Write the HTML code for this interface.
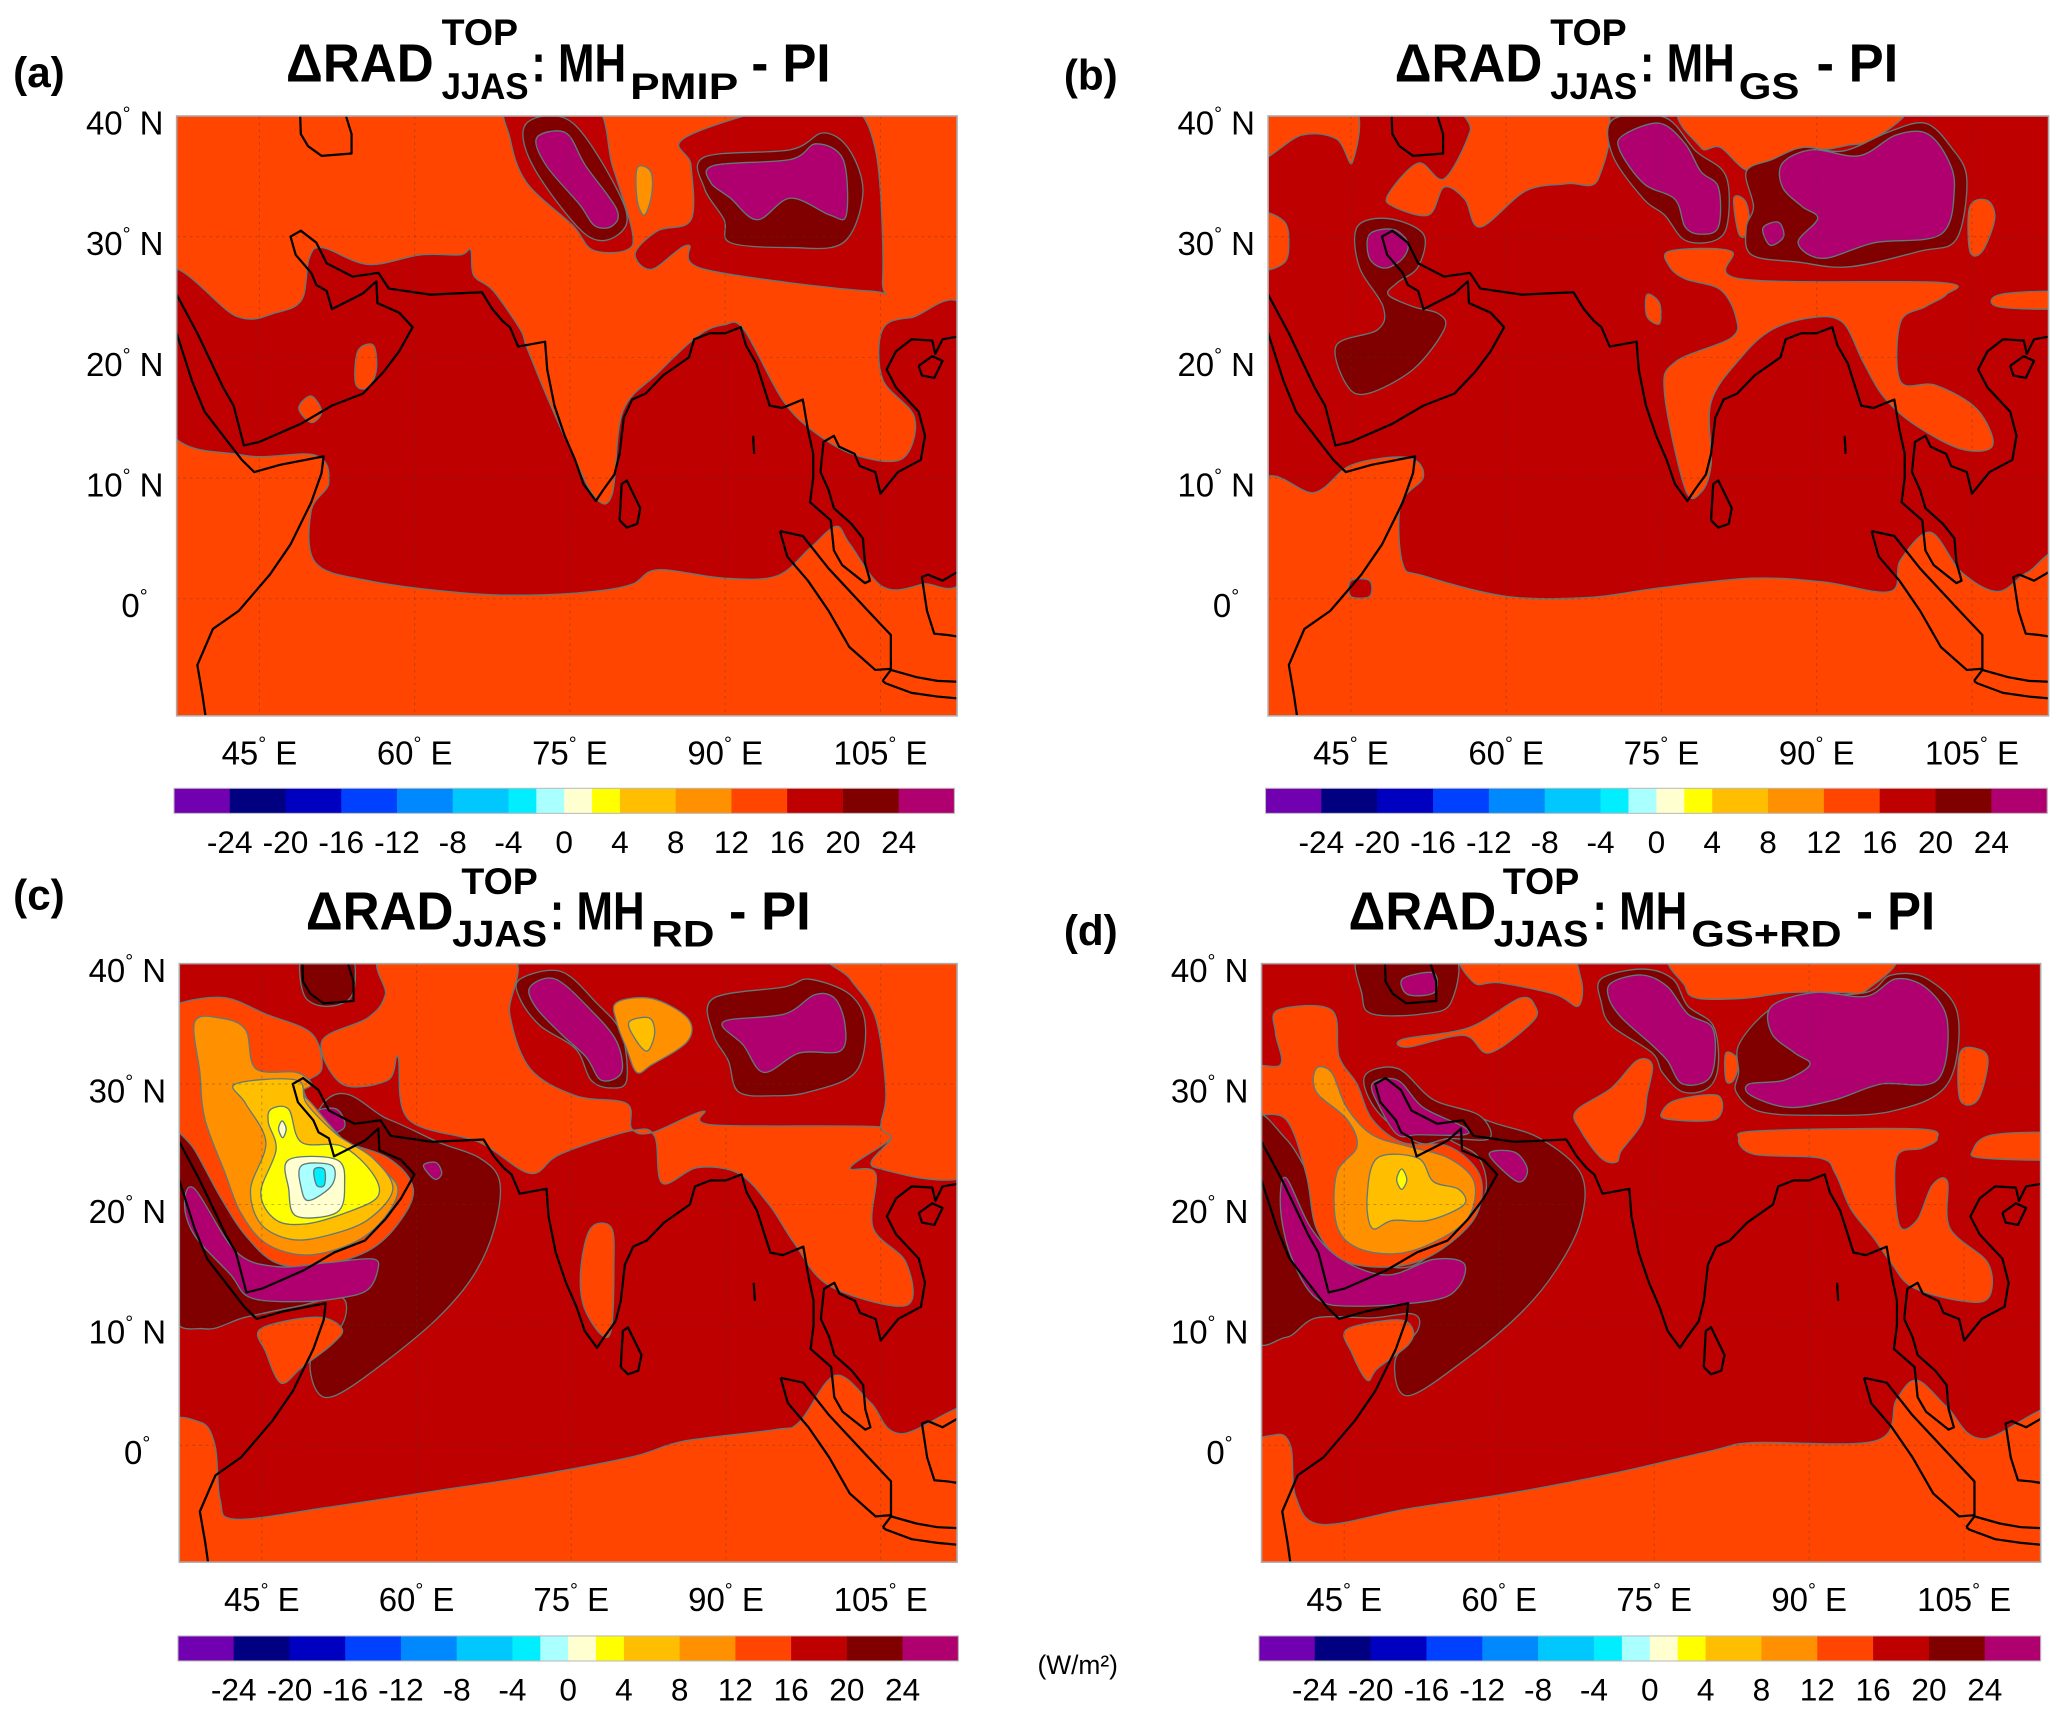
<!DOCTYPE html>
<html><head><meta charset="utf-8"><title>ΔRAD TOP JJAS maps</title>
<style>
html,body{margin:0;padding:0;background:#fff;}
svg{display:block;}
text{font-family:"Liberation Sans",sans-serif;fill:#000;}
.tt{font-weight:bold;}
</style></head>
<body>
<svg id="fig" width="2067" height="1719" viewBox="0 0 1568 1304" xmlns="http://www.w3.org/2000/svg">
<rect x="0" y="0" width="1568" height="1304" fill="#fff"/>
<g id="maps"></g>
<g id="labels"></g>
<text class="tt" x="10" y="66" font-size="32">(a)</text>
<text class="tt" x="807" y="68" font-size="32">(b)</text>
<text class="tt" x="10" y="690" font-size="32">(c)</text>
<text class="tt" x="807" y="717" font-size="32">(d)</text>
<g>
<text class="tt" x="217" y="62" font-size="41" textLength="112" lengthAdjust="spacingAndGlyphs">ΔRAD</text>
<text class="tt" x="335" y="34" font-size="28" textLength="58" lengthAdjust="spacingAndGlyphs">TOP</text>
<text class="tt" x="335" y="75" font-size="28" textLength="66" lengthAdjust="spacingAndGlyphs">JJAS</text>
<text class="tt" x="403" y="62" font-size="41" textLength="72" lengthAdjust="spacingAndGlyphs">: MH</text>
<text class="tt" x="478" y="75" font-size="28" textLength="82" lengthAdjust="spacingAndGlyphs">PMIP</text>
<text class="tt" x="570" y="62" font-size="41" textLength="60" lengthAdjust="spacingAndGlyphs">- PI</text>
</g>
<g>
<text class="tt" x="1058" y="62" font-size="41" textLength="112" lengthAdjust="spacingAndGlyphs">ΔRAD</text>
<text class="tt" x="1176" y="34" font-size="28" textLength="58" lengthAdjust="spacingAndGlyphs">TOP</text>
<text class="tt" x="1176" y="75" font-size="28" textLength="66" lengthAdjust="spacingAndGlyphs">JJAS</text>
<text class="tt" x="1244" y="62" font-size="41" textLength="72" lengthAdjust="spacingAndGlyphs">: MH</text>
<text class="tt" x="1319" y="75" font-size="28" textLength="46" lengthAdjust="spacingAndGlyphs">GS</text>
<text class="tt" x="1378" y="62" font-size="41" textLength="62" lengthAdjust="spacingAndGlyphs">- PI</text>
</g>
<g>
<text class="tt" x="232" y="705" font-size="41" textLength="112" lengthAdjust="spacingAndGlyphs">ΔRAD</text>
<text class="tt" x="350" y="678" font-size="28" textLength="58" lengthAdjust="spacingAndGlyphs">TOP</text>
<text class="tt" x="343" y="718" font-size="28" textLength="72" lengthAdjust="spacingAndGlyphs">JJAS</text>
<text class="tt" x="417" y="705" font-size="41" textLength="72" lengthAdjust="spacingAndGlyphs">: MH</text>
<text class="tt" x="494" y="718" font-size="28" textLength="48" lengthAdjust="spacingAndGlyphs">RD</text>
<text class="tt" x="553" y="705" font-size="41" textLength="62" lengthAdjust="spacingAndGlyphs">- PI</text>
</g>
<g>
<text class="tt" x="1023" y="705" font-size="41" textLength="112" lengthAdjust="spacingAndGlyphs">ΔRAD</text>
<text class="tt" x="1140" y="678" font-size="28" textLength="58" lengthAdjust="spacingAndGlyphs">TOP</text>
<text class="tt" x="1133" y="718" font-size="28" textLength="72" lengthAdjust="spacingAndGlyphs">JJAS</text>
<text class="tt" x="1208" y="705" font-size="41" textLength="72" lengthAdjust="spacingAndGlyphs">: MH</text>
<text class="tt" x="1283" y="718" font-size="28" textLength="114" lengthAdjust="spacingAndGlyphs">GS+RD</text>
<text class="tt" x="1408" y="705" font-size="41" textLength="60" lengthAdjust="spacingAndGlyphs">- PI</text>
</g>
<text x="787" y="1270" font-size="20">(W/m²)</text>
</svg>
<script>
const levels = [-28,-24,-20,-16,-12,-8,-4,-2,0,2,4,8,12,16,20,24,28];
const binColors = ['#7000B0','#000080','#0000C0','#0040FF','#0088FF','#00C8FF','#00EEFF','#AAFFFF','#FFFFD0','#FFFF00','#FFBF00','#FF9000','#FF4500','#BF0000','#800000','#B00070'];
const cbTicks = [-24,-20,-16,-12,-8,-4,0,4,8,12,16,20,24];
const lonTicks = [45,60,75,90,105];
const latTicks = [40,30,20,10,0];
const LON0 = 37, LON1 = 112.4, LAT0 = -9.7, LAT1 = 40;

const calC = {gx:172, lonG:45, sx:20.3, gy:330, latG:30, sy:31.0};
const calD = {gx:175, lonG:45, sx:20.3, gy:330, latG:30, sy:30.9};

const aRed = [[36,27.1],[42.8,23.4],[46.6,23.7],[49.1,24.8],[49.8,28.2],[51.1,29.1],[55.5,27.7],[60.6,28.5],[64.4,28.5],[65.4,28.9],[65.7,26.8],[67.6,25.5],[70.2,22.3],[70.8,20.9],[72.7,16.9],[75.3,11.9],[77.5,8.3],[79.1,8.7],[80.1,15.5],[83.5,18.7],[87.4,21.8],[89.9,22.7],[91.8,22.3],[95.6,16.4],[98.8,13.7],[102.6,11.9],[107.1,11.6],[108.3,15],[105.2,18.2],[105.2,22.3],[108,23.3],[113.5,23.2],[113.5,3.0],[109,1.2],[105.2,1.0],[102,4.6],[100.7,6],[98.2,4.2],[95,1.9],[89.9,1.7],[83.5,2.4],[81,1.2],[77.2,0.6],[70.8,0.3],[64.4,0.5],[55.5,1.5],[50.4,3],[50,7.3],[51.7,9.6],[50.4,11.9],[43.4,11.9],[36,14.4]];
const aOr1 = [[54.5,20.5],[56,21],[56.3,19],[55.5,17.5],[54.3,17.8]];
const aOr2 = [[48.8,15.8],[50,16.8],[51,15.5],[50,14.6]];
const aRedTW = [[69.2,41],[77.2,41],[79.1,35.9],[81,30.5],[80.5,28.9],[77.2,28.9],[75.3,30.9],[70.8,34.5],[69.2,38.2]];
const aDarkTW = [[70.8,39.4],[75.3,39.4],[80.2,32.7],[79.7,30.2],[76.5,30.2],[71.4,35.9]];
const aMagTW = [[71.8,38.2],[74.6,38.6],[76.5,35.9],[79.5,32.3],[79.1,30.9],[77.4,30.9],[75.9,32.7],[72.7,35.9]];
const aOrBlob = [[81.5,35.7],[82.8,35.4],[82.9,33.5],[82.2,31.8],[81.5,33]];
const aRedTE = [[86.1,38.2],[96.3,41],[102,41],[104.6,36.8],[105.2,26.4],[103.9,25.5],[88,27.3],[86.4,29.3],[82.9,27.3],[81.3,28.6],[83.5,30.5],[86.7,31.4],[86.7,35.9]];
const aDarkTE = [[88,36.6],[96.3,37.2],[99.5,38.6],[102,37.2],[103.3,33.6],[101.4,29.5],[96.3,29.1],[90.5,29.5],[89.9,31.4],[88,34]];
const aMagTE = [[88.9,35.9],[96.3,36.4],[98.8,37.7],[101.4,36.4],[101.7,31.8],[100.1,31.8],[96.3,33.2],[93.1,31.4],[90.5,33.2],[88.6,34.5]];

const bO1 = [[36,41],[45.1,41],[45.1,36.1],[43.6,38.1],[40.2,38.4],[36,36.4]];
const bO2 = [[36,31.8],[38.5,31.3],[39,29.5],[38.5,27.8],[36,27.5]];
const bO3 = [[56.5,41],[69.1,41],[68.9,34.8],[65.9,34.4],[61.9,33.8],[57.5,30.8],[56,33.1],[54,34.1],[52.5,31.8],[49.1,32.5],[48.6,33.5],[51.5,36.1],[54,34.8],[56.5,38.7]];
const bO4 = [[77.8,41],[97.6,41],[95.6,38.1],[93.1,37.6],[90.6,37.2],[87.7,37.1],[83.7,35.4],[80.7,37.4],[78.8,37.4]];
const bO5 = [[75.8,28.8],[81.7,28.8],[82.7,26.5],[102,26.2],[102.5,25.2],[100.5,24.2],[98.1,22.9],[98.1,18],[101.5,17.7],[105.5,15.7],[107,12.7],[104,12.4],[99.5,14.4],[96.5,16.7],[94.5,19.6],[92.5,22.9],[89.6,23.3],[85.7,22.3],[82.7,20],[79.8,16.3],[79.8,11.1],[78.8,8.8],[77.3,9.1],[75.3,17],[76.3,19.6],[81.7,21.6],[82.2,23.3],[80.7,25.6],[77.3,26.5],[75.8,27.5]];
const bO6 = [[104.8,32.5],[106.5,33],[107.2,31.5],[106,28.8],[104.8,28.8]];
const bO7 = [[107.7,25.2],[113.5,25.4],[113.5,24.1],[107.5,24.2]];
const bO8 = [[73.6,25.2],[74.8,24.5],[74.8,22.8],[73.6,23.4]];
const bO9 = [[36,8.8],[41.5,8.8],[45.1,11.1],[50.5,11.7],[52,10.1],[49.8,7.8],[50,2.9],[52,1.9],[60,0.2],[67.9,0.1],[74.8,0.9],[83.7,1.7],[90.6,1.4],[97.1,0.6],[98.1,3.2],[101,5.5],[104,2.2],[107.5,0.6],[110.4,2.2],[113.5,2.9],[113.5,-11],[36,-11]];
const bRedSq = [[45,1.5],[46.8,1.5],[46.8,0.2],[45,0.2]];
const bDarkAr = [[45.6,30.8],[48.6,31.5],[52,30.2],[51.5,27.5],[49.5,26.2],[48.6,25.2],[51,24.2],[53.5,23.6],[54,22.3],[51,19],[46.6,17],[44.6,17.7],[43.6,21],[47.6,22.3],[48.1,24.2],[45.8,27.5]];
const bMagAr = [[46.8,30.2],[49.1,30.6],[50.5,29.5],[50,28.2],[48.3,27.4],[46.8,28.2]];
const bDarkTW = [[70.3,39.7],[75.3,39.9],[78.3,37.1],[81.2,35.1],[81.4,31.2],[80.2,29.7],[77.3,29.7],[75.3,31.8],[73.3,33.1],[70.3,36.7]];
const bMagTW = [[71.3,38.4],[74.8,39.4],[77.3,37.7],[78.8,35.4],[80.5,34.1],[80.5,30.8],[78.8,30.2],[77.3,30.8],[76.3,33.1],[73.3,34.4],[71,37.1]];
const bOrSm = [[82,33.2],[83.2,32.8],[83.5,30.4],[82.5,30.2]];
const bDarkTE = [[83.2,35.4],[85.7,36.4],[88.7,37.4],[92.6,37.1],[97,38.7],[100.5,39.4],[103,37.4],[104.5,34.8],[103.5,29.8],[100,28.8],[93.1,27.5],[88.2,27.9],[83.7,28.5],[83.2,30.8],[83.9,32.5]];
const bMagTE = [[86.7,36.1],[89.6,37.2],[94.1,36.7],[97.6,38.4],[100.5,38.6],[102.5,36.7],[103.3,34.1],[102,30.2],[95.6,29.5],[90.6,28.2],[88.2,29.5],[90.1,31.5],[88.6,32.5],[86.7,34.1]];
const bMagSm = [[84.8,30.7],[86.3,31.2],[86.8,30],[85.5,29.3]];

const cOrN = [[415,0],[660,0],[660,150],[700,290],[790,360],[890,380],[900,445],[940,455],[1040,400],[1060,435],[1390,440],[1410,470],[1330,545],[1380,560],[1375,700],[1440,790],[1440,900],[1290,850],[1220,740],[1170,640],[1110,560],[1030,545],[960,585],[945,465],[900,450],[760,510],[700,560],[600,480],[460,420],[440,260],[420,320],[330,330],[290,220],[380,160],[415,100]];
const cOrNE = [[1300,0],[1600,0],[1600,530],[1380,545],[1410,470],[1390,440],[1400,350],[1380,160],[1330,60]];
const cOrInd = [[820,700],[860,700],[865,800],[860,960],[840,975],[805,900],[800,800]];
const cOrS = [[-20,1230],[50,1200],[80,1260],[90,1400],[120,1450],[300,1420],[500,1380],[700,1340],[900,1290],[1000,1250],[1180,1220],[1230,1200],[1300,1080],[1370,1150],[1430,1230],[1600,1170],[1600,1600],[-20,1600]];
const cDarkTop = [[255,-10],[345,-10],[350,100],[300,130],[255,100]];
const cDark = [[300,370],[420,420],[520,480],[600,520],[640,580],[630,700],[590,820],[520,930],[420,1040],[320,1130],[280,1120],[270,1030],[330,950],[330,880],[250,900],[140,930],[60,960],[-10,900],[-10,470],[60,460],[130,600],[170,720]];
const cOr = [[15,120],[100,108],[180,150],[270,200],[290,290],[255,330],[265,380],[300,460],[420,520],[470,600],[440,690],[380,760],[280,800],[200,790],[140,720],[90,620],[40,500],[-10,400],[-10,150]];
const cMag1 = [[40,600],[120,760],[200,800],[300,790],[390,780],[400,810],[380,860],[330,880],[250,890],[150,880],[110,820],[40,720],[20,640]];
const cMag2 = [[280,400],[320,395],[335,440],[300,460],[275,440]];
const cMag3 = [[490,540],[515,532],[526,560],[512,575]];
const cDOr = [[40,170],[90,160],[140,190],[160,290],[240,300],[270,330],[250,350],[270,380],[330,470],[400,540],[440,600],[410,680],[350,740],[260,770],[180,740],[130,660],[100,560],[60,420],[50,300]];
const cGold = [[120,330],[240,320],[260,380],[320,460],[390,520],[430,600],[380,680],[300,720],[230,730],[170,690],[150,600],[180,480],[140,380]];
const cYel = [[190,395],[225,395],[250,480],[330,490],[390,560],[400,620],[340,660],[260,690],[200,680],[170,610],[200,500],[185,430]];
const cCream = [[225,525],[320,525],[335,590],[320,660],[240,670],[225,600]];
const cPale = [[250,540],[310,540],[310,590],[265,630],[250,600]];
const cCyan = [[275,550],[295,550],[295,590],[280,590]];
const cDiam = [[212,425],[220,445],[213,468],[205,445]];
const cOrBL = [[170,960],[280,930],[330,960],[310,1000],[250,1060],[210,1100],[180,1020]];
const cDarkW = [[680,60],[760,40],[830,120],[880,200],[890,320],[860,340],[820,320],[790,240],[720,180],[680,110]];
const cMagW = [[700,80],[750,60],[820,140],[870,220],[880,300],[840,320],[810,260],[760,200],[710,130]];
const cOrC = [[870,120],[940,110],[1010,160],[1010,220],[940,280],[910,300],[890,240],[870,170]];
const cGoldC = [[895,170],[935,160],[945,200],[930,245],[905,210]];
const cDarkE = [[1060,110],[1200,80],[1250,60],[1330,100],[1360,180],[1340,300],[1250,350],[1180,360],[1110,350],[1090,270],[1060,200]];
const cMagE = [[1080,170],[1200,150],[1260,100],[1300,110],[1320,180],[1310,245],[1230,250],[1160,300],[1120,230]];

const dDark = [[-10,440],[60,470],[130,620],[200,760],[300,800],[380,720],[450,620],[440,520],[380,470],[330,400],[380,390],[470,430],[560,470],[640,560],[640,680],[590,810],[520,920],[420,1030],[300,1130],[275,1040],[320,960],[310,920],[230,930],[120,930],[60,980],[-10,950]];
const dDarkTop = [[210,-10],[385,-10],[385,120],[330,150],[230,150],[210,100]];
const dMagTop = [[290,60],[350,45],[352,95],[300,100]];
const dOr3a = [[410,-10],[600,-10],[640,60],[635,130],[590,100],[480,70],[430,70]];
const dOr3b = [[520,110],[550,130],[545,170],[460,250],[410,205],[300,235],[290,215],[420,185]];
const dOr4 = [[630,400],[700,340],[750,270],[780,280],[770,360],[760,430],[720,500],[710,530],[680,520],[640,450]];
const dOr5 = [[800,400],[830,370],[910,360],[905,420],[810,420]];
const dOr6 = [[840,-10],[1240,-10],[1200,90],[1150,95],[1050,95],[960,110],[870,110],[845,80]];
const dOr7 = [[925,250],[950,270],[940,320],[925,320]];
const dOr8 = [[1385,250],[1420,240],[1440,270],[1420,370],[1385,370]];
const dOr9 = [[950,470],[990,450],[1300,445],[1340,470],[1310,495],[1260,520],[1265,690],[1300,680],[1330,590],[1360,580],[1365,700],[1440,790],[1440,880],[1380,885],[1290,850],[1250,790],[1215,725],[1170,650],[1140,560],[1110,520],[980,510]];
const dOr10 = [[1410,500],[1450,460],[1600,460],[1600,520],[1430,520]];
const dOrS = [[-20,1290],[40,1230],[70,1260],[80,1390],[130,1460],[300,1420],[500,1380],[700,1330],[900,1270],[980,1250],[1220,1245],[1260,1140],[1300,1090],[1360,1160],[1430,1240],[1600,1170],[1600,1600],[-20,1600]];
const dOrBL = [[180,960],[280,935],[310,960],[300,1000],[240,1060],[220,1090],[190,1020]];
const dOr = [[45,140],[150,140],[165,260],[200,330],[230,420],[290,480],[380,490],[440,560],[440,650],[400,720],[330,780],[250,800],[170,780],[120,700],[100,560],[60,420],[-10,400],[-10,290],[50,280],[40,200]];
const dDarkRing = [[215,310],[280,290],[350,370],[440,410],[460,470],[380,470],[320,480],[240,400]];
const dMag1 = [[230,330],[280,320],[330,390],[410,440],[410,460],[320,460],[280,460],[245,390]];
const dMag2 = [[60,570],[110,700],[170,780],[260,820],[350,780],[410,790],[400,850],[350,885],[200,900],[120,880],[70,770],[50,650]];
const dMag3 = [[460,510],[510,505],[535,550],[515,580]];
const dDOr = [[120,290],[150,300],[180,390],[230,460],[300,490],[380,520],[430,580],[420,670],[360,730],[280,765],[200,750],[160,690],[160,560],[200,490],[180,420],[120,350]];
const dGold = [[240,520],[320,520],[350,580],[400,600],[410,640],[340,680],[270,680],[230,700],[220,620]];
const dYel = [[288,548],[298,575],[288,600],[278,575]];
const dDarkW = [[680,60],[760,35],[820,60],[850,130],[900,180],[910,280],[890,340],[840,350],[800,300],[780,250],[700,180],[680,120]];
const dMagW = [[700,70],[760,50],[810,80],[850,150],[900,190],[895,310],[840,330],[810,270],[780,230],[720,160],[695,110]];
const dDarkE = [[950,230],[1000,150],[1060,110],[1200,95],[1250,50],[1320,60],[1380,150],[1360,330],[1250,400],[1100,410],[990,400],[945,350],[950,300]];
const dMagE = [[1015,130],[1100,95],[1200,105],[1260,60],[1320,85],[1360,170],[1340,320],[1230,330],[1140,370],[1050,390],[975,360],[970,330],[1040,320],[1090,280],[1060,250],[1015,200]];

const coastAfrica = [[34,27.5],[37,22],[38.5,18],[39.7,15.5],[41.5,13.5],[43.3,11.5],[44.5,10.5],[47,11.1],[51.2,11.8],[51,10.4],[50,8],[48,4.5],[46,2],[43,-1],[40.5,-2.5],[39,-5.5],[39.5,-8],[40,-11]];
const coastAsia = [[34.5,28.5],[36.5,26],[39,22],[41.5,17.5],[42.5,16],[43.5,12.7],[45,13],[49,14.5],[52,16],[55,17],[57,18.8],[58.5,20.5],[59.8,22.5],[58.5,23.7],[56.4,24.5],[56.3,26.3],[55,25.3],[52,24],[51.5,25.5],[50.5,26],[50,27],[48.5,28.5],[48,30],[49,30.5],[50.5,29.5],[51.5,27.8],[54,26.7],[56.5,27],[57.5,25.7],[61.5,25.2],[66.5,25.4],[67.5,24],[68.5,23],[69.2,22.5],[70,20.9],[72.6,21.3],[72.8,19],[73.5,16],[74.5,13.5],[75.5,11.5],[76.3,9.5],[77.5,8.1],[78.2,9],[79.3,10.3],[79.8,12],[80.2,15],[81,16.5],[82.3,17],[84,18.5],[86.5,20],[87,21.5],[88.5,22],[90,22],[91.5,22.5],[92,21],[93,19.5],[94.3,16],[95.5,15.8],[97.5,16.5],[98,14],[98.5,12],[98.5,10],[98.2,8],[100.2,6.5],[100.5,4],[101.3,2.8],[103.5,1.3],[104,1.5],[103.5,3],[103.3,5],[102.2,6.2],[100.5,7.5],[100,9],[99.2,10.5],[99.5,13],[100.5,13.5],[101,12.6],[102.5,12],[103,11],[104.5,10.5],[105,8.7],[106.7,10.5],[108.9,11.5],[109.3,13.5],[108.7,15.5],[106.5,17.5],[105.6,19],[106.5,20.5],[108,21.5],[110,21.4],[110.3,20.3],[111,21.5],[113,21.8]];
const coastSriLanka = [[79.8,6.5],[80,9.5],[80.5,9.8],[81.8,7.5],[81.5,6.2],[80.5,5.9],[79.8,6.5]];
const coastSumatra = [[95.3,5.6],[97.5,5.2],[100,2.5],[103.8,-1],[106,-3],[106,-5.8],[104.5,-5.9],[102,-4],[100,-1],[98,1.5],[96,3.5],[95.3,5.6]];
const coastJava = [[105.2,-6.8],[106,-5.9],[108.5,-6.5],[110.5,-6.8],[113,-6.9]];
const coastJava2 = [[113,-8.3],[110.5,-8.1],[108,-7.8],[105.5,-7],[105.2,-6.8]];
const coastBorneo = [[113,-3.2],[111.5,-3],[110.2,-2.9],[109.5,-1],[109,1.8],[109.6,2],[111,1.5],[113,2.5]];
const coastCaspian = [[48.9,41],[49,38.5],[49.7,37.5],[51,36.7],[53.9,36.9],[53.9,38.5],[53,41]];
const coastHainan = [[108.7,19.3],[110,20.1],[111,19.7],[110.2,18.3],[109,18.5],[108.7,19.3]];
const coastAndaman = [[92.7,13.5],[92.8,12]];

const NS = 'http://www.w3.org/2000/svg';
const panels = [
  {id:'a', x:134, y:88, w:592, h:455, cbx:132, cby:598, cbw:592, base:12},
  {id:'b', x:962, y:88, w:592, h:455, cbx:960, cby:598, cbw:593, base:13},
  {id:'c', x:136, y:731, w:590, h:454, cbx:135, cby:1241, cbw:592, base:12},
  {id:'d', x:957, y:731, w:591, h:454, cbx:955, cby:1241, cbw:593, base:13}
];
function fromDigit(pts, cal){ return pts.map(p=>[cal.lonG+(p[0]-cal.gx)/cal.sx, cal.latG-(p[1]-cal.gy)/cal.sy]); }
const layers = {
  a:[[13,aRed],[12,aOr1],[12,aOr2],[13,aRedTW],[14,aDarkTW],[15,aMagTW],[11,aOrBlob],[13,aRedTE],[14,aDarkTE],[15,aMagTE]],
  b:[[12,bO1],[12,bO2],[12,bO3],[12,bO4],[12,bO5],[12,bO6],[12,bO7],[12,bO8],[12,bO9],[13,bRedSq],[14,bDarkAr],[15,bMagAr],[14,bDarkTW],[15,bMagTW],[12,bOrSm],[14,bDarkTE],[15,bMagTE],[15,bMagSm]],
  c:[[13,fromDigit([[-20,-20],[1600,-20],[1600,1600],[-20,1600]],calC)],[12,fromDigit(cOrN,calC)],[12,fromDigit(cOrNE,calC)],[12,fromDigit(cOrInd,calC)],[12,fromDigit(cOrS,calC)],[14,fromDigit(cDarkTop,calC)],[14,fromDigit(cDark,calC)],[12,fromDigit(cOr,calC)],[15,fromDigit(cMag1,calC)],[15,fromDigit(cMag2,calC)],[15,fromDigit(cMag3,calC)],[11,fromDigit(cDOr,calC)],[10,fromDigit(cGold,calC)],[9,fromDigit(cYel,calC)],[8,fromDigit(cCream,calC)],[7,fromDigit(cPale,calC)],[6,fromDigit(cCyan,calC)],[8,fromDigit(cDiam,calC)],[12,fromDigit(cOrBL,calC)],[14,fromDigit(cDarkW,calC)],[15,fromDigit(cMagW,calC)],[11,fromDigit(cOrC,calC)],[10,fromDigit(cGoldC,calC)],[14,fromDigit(cDarkE,calC)],[15,fromDigit(cMagE,calC)]],
  d:[[14,fromDigit(dDark,calD)],[14,fromDigit(dDarkTop,calD)],[15,fromDigit(dMagTop,calD)],[12,fromDigit(dOr3a,calD)],[12,fromDigit(dOr3b,calD)],[12,fromDigit(dOr4,calD)],[12,fromDigit(dOr5,calD)],[12,fromDigit(dOr6,calD)],[12,fromDigit(dOr7,calD)],[12,fromDigit(dOr8,calD)],[12,fromDigit(dOr9,calD)],[12,fromDigit(dOr10,calD)],[12,fromDigit(dOrS,calD)],[12,fromDigit(dOrBL,calD)],[12,fromDigit(dOr,calD)],[14,fromDigit(dDarkRing,calD)],[15,fromDigit(dMag1,calD)],[15,fromDigit(dMag2,calD)],[15,fromDigit(dMag3,calD)],[11,fromDigit(dDOr,calD)],[10,fromDigit(dGold,calD)],[9,fromDigit(dYel,calD)],[14,fromDigit(dDarkW,calD)],[15,fromDigit(dMagW,calD)],[14,fromDigit(dDarkE,calD)],[15,fromDigit(dMagE,calD)]]
};
const coasts = [coastAfrica,coastAsia,coastSriLanka,coastSumatra,coastJava,coastJava2,coastBorneo,coastCaspian,coastHainan,coastAndaman];

function el(tag, attrs, parent){ const e=document.createElementNS(NS,tag); for(const k in attrs) e.setAttribute(k,attrs[k]); if(parent) parent.appendChild(e); return e; }
function smoothClosed(pts){
  const n=pts.length; let d='M'+pts[0][0].toFixed(1)+','+pts[0][1].toFixed(1);
  for(let i=0;i<n;i++){
    const p0=pts[(i-1+n)%n],p1=pts[i],p2=pts[(i+1)%n],p3=pts[(i+2)%n];
    const c1=[p1[0]+(p2[0]-p0[0])/6,p1[1]+(p2[1]-p0[1])/6];
    const c2=[p2[0]-(p3[0]-p1[0])/6,p2[1]-(p3[1]-p1[1])/6];
    d+='C'+c1[0].toFixed(1)+','+c1[1].toFixed(1)+' '+c2[0].toFixed(1)+','+c2[1].toFixed(1)+' '+p2[0].toFixed(1)+','+p2[1].toFixed(1);
  }
  return d+'Z';
}
const svg=document.getElementById('fig');
const mapsG=document.getElementById('maps');
const labG=document.getElementById('labels');
const defs=el('defs',{},svg);

panels.forEach(P=>{
  const X=lon=>P.x+(lon-LON0)/(LON1-LON0)*P.w;
  const Y=lat=>P.y+(LAT1-lat)/(LAT1-LAT0)*P.h;
  const cp=el('clipPath',{id:'clip-'+P.id},defs);
  el('rect',{x:P.x,y:P.y,width:P.w,height:P.h},cp);
  const g=el('g',{'clip-path':'url(#clip-'+P.id+')'},mapsG);
  
  
  const bg=el('rect',{x:P.x,y:P.y,width:P.w,height:P.h,fill:binColors[P.base]},g);
  
  
  layers[P.id].forEach((L,i)=>{
    const pts=L[1].map(p=>[X(p[0]),Y(p[1])]);
    const path=el('path',{d:smoothClosed(pts),fill:binColors[L[0]],stroke:'#5f7a7a','stroke-width':'1'},g);
    
    
  });
  lonTicks.forEach(lon=>{
    const gl=el('line',{x1:X(lon),x2:X(lon),y1:P.y,y2:P.y+P.h,stroke:'rgba(60,60,60,0.35)','stroke-width':'0.8','stroke-dasharray':'2,3'},g);
    
    
  });
  latTicks.forEach(lat=>{
    const gl=el('line',{x1:P.x,x2:P.x+P.w,y1:Y(lat),y2:Y(lat),stroke:'rgba(60,60,60,0.35)','stroke-width':'0.8','stroke-dasharray':'2,3'},g);
    
    
  });
  coasts.forEach(c=>{
    const d='M'+c.map(p=>X(p[0]).toFixed(1)+','+Y(p[1]).toFixed(1)).join('L');
    const cl=el('path',{d:d,fill:'none',stroke:'#000','stroke-width':'1.7','stroke-linejoin':'round'},g);
    
    
  });
  const fr=el('rect',{x:P.x,y:P.y,width:P.w,height:P.h,fill:'none',stroke:'#aaa','stroke-width':'1.2'},mapsG);
  
  
  latTicks.forEach(lat=>{
    const t=el('text',{x:P.x-10,y:Y(lat)+14,'font-size':'25','text-anchor':'end'},labG);
    
    
    if(lat===0){ t.innerHTML='0<tspan dy="-11" font-size="15">°</tspan><tspan dy="11" font-size="25"> </tspan>'; t.setAttribute('x',P.x-22); }
    else t.innerHTML=lat+'<tspan dy="-11" font-size="15">°</tspan><tspan dy="11" font-size="25"> N</tspan>';
  });
  lonTicks.forEach(lon=>{
    const t=el('text',{x:X(lon),y:P.y+P.h+37,'font-size':'25','text-anchor':'middle'},labG);
    
    
    t.innerHTML=lon+'<tspan dy="-11" font-size="15">°</tspan><tspan dy="11" font-size="25"> E</tspan>';
  });
  const CX=v=>P.cbx+(v-levels[0])/(levels[levels.length-1]-levels[0])*P.cbw;
  const cb=el('g',{},labG);
  
  
  for(let i=0;i<binColors.length;i++){
    const r=el('rect',{x:CX(levels[i]),y:P.cby,width:CX(levels[i+1])-CX(levels[i])+0.3,height:19,fill:binColors[i]},cb);
    
    
  }
  const cf=el('rect',{x:P.cbx,y:P.cby,width:P.cbw,height:19,fill:'none',stroke:'#bbb','stroke-width':'0.8'},cb);
  
  
  cbTicks.forEach(v=>{
    const t=el('text',{x:CX(v),y:P.cby+49,'font-size':'24','text-anchor':'middle'},cb);
    
    
    t.textContent=String(v);
  });
});
</script>
</body></html>
